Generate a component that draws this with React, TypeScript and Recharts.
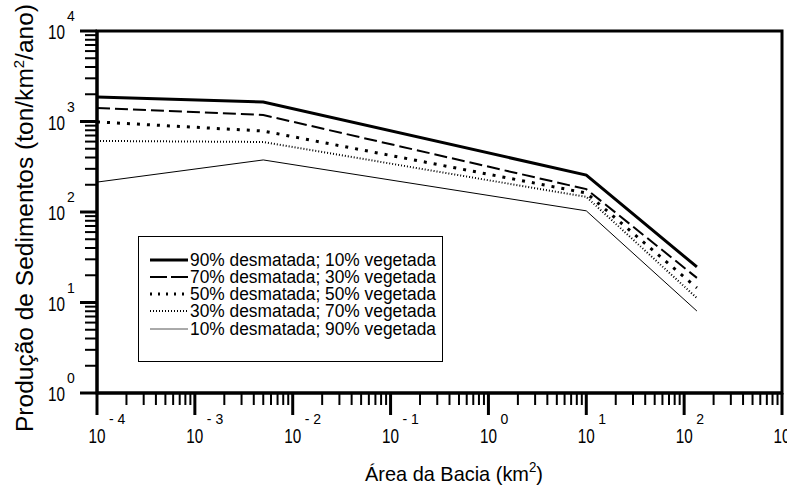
import React from "react";
import { LineChart, Line, XAxis, YAxis, ReferenceArea, Legend } from "recharts";

// valores (escala log-log)
const area = [1e-4, 5e-3, 10, 135];
const s90 = [1870, 1640, 256, 24.7];
const s70 = [1410, 1180, 179, 18.7];
const s50 = [990, 785, 162, 14.5];
const s30 = [610, 594, 147, 11.2];
const s10 = [214, 376, 103, 8.05];

const xDecades = [1e-4, 1e-3, 1e-2, 1e-1, 1, 10, 100, 1000];
const yDecades = [1, 10, 100, 1000, 10000];
const minorSteps = [2, 3, 4, 5, 6, 7, 8, 9];

const series = [
  { key: "s90", name: "90% desmatada; 10% vegetada", width: 3, dash: undefined, legendDash: undefined },
  { key: "s70", name: "70% desmatada; 30% vegetada", width: 2, dash: "13 5", legendDash: "17 4" },
  { key: "s50", name: "50% desmatada; 50% vegetada", width: 3, dash: "3 7", legendDash: "2 6" },
  { key: "s30", name: "30% desmatada; 70% vegetada", width: 2, dash: "1 2", legendDash: "1 2" },
  { key: "s10", name: "10% desmatada; 90% vegetada", width: 1, dash: undefined, legendDash: undefined },
];

const data = area.map((a, i) => ({
  area: a,
  s90: s90[i],
  s70: s70[i],
  s50: s50[i],
  s30: s30[i],
  s10: s10[i],
}));

const withMinor = (decades: number[]) => {
  const out: number[] = [];
  decades.forEach((d, i) => {
    out.push(d);
    if (i < decades.length - 1) minorSteps.forEach((m) => out.push(d * m));
  });
  return out;
};

const xTicks = withMinor(xDecades);
const yTicks = withMinor(yDecades);

const FONT = '"Liberation Sans", Arial, Helvetica, sans-serif';

const isDecade = (v: number) => Math.abs(Math.log10(v) - Math.round(Math.log10(v))) < 1e-9;
const expLabel = (v: number) => {
  const e = Math.round(Math.log10(v));
  return e < 0 ? `- ${-e}` : `${e}`;
};

const XTick = (props: any) => {
  const { x, y, payload } = props;
  const v = payload.value;
  const major = isDecade(v);
  return (
    <g>
      <line x1={x} x2={x} y1={y} y2={y + (major ? 22 : 12)} stroke="#000" strokeWidth={major ? 3 : 2} />
      {major && (
        <>
          <text x={x - 8.5} y={y + 50} textLength={17} lengthAdjust="spacingAndGlyphs" fontFamily={FONT} fontSize={20} fill="#000">10</text>
          <text x={x + 12} y={y + 31} fontFamily={FONT} fontSize={14} fill="#000">{expLabel(v)}</text>
        </>
      )}
    </g>
  );
};

const YTick = (props: any) => {
  const { x, y, payload } = props;
  const v = payload.value;
  const major = isDecade(v);
  return (
    <g>
      <line x1={x - (major ? 17 : 12)} x2={x} y1={y} y2={y} stroke="#000" strokeWidth={major ? 3 : 2} />
      {major && (
        <>
          <text x={x - 49} y={y + 8} textLength={17} lengthAdjust="spacingAndGlyphs" fontFamily={FONT} fontSize={20} fill="#000">10</text>
          <text x={x - 30} y={y - 10} fontFamily={FONT} fontSize={14} fill="#000">{expLabel(v)}</text>
        </>
      )}
    </g>
  );
};

const YTitle = () => (
  <text
    transform="translate(33, 218) rotate(-90)"
    textAnchor="middle"
    textLength={428}
    lengthAdjust="spacingAndGlyphs"
    fontFamily={FONT}
    fontSize={23}
    fill="#000"
  >
    Produção de Sedimentos (ton/km<tspan dy={-9} fontSize={14}>2</tspan>
    <tspan dy={9}>/ano)</tspan>
  </text>
);

const XTitle = () => (
  <text x={365} y={481} textLength={178} lengthAdjust="spacingAndGlyphs" fontFamily={FONT} fontSize={21} fill="#000">
    Área da Bacia (km<tspan dy={-9} fontSize={14}>2</tspan>
    <tspan dy={9}>)</tspan>
  </text>
);

const LegendBox = () => (
  <svg width={305} height={126} style={{ display: "block" }}>
    <rect x={0.5} y={0.5} width={304} height={125} fill="#fff" stroke="#000" strokeWidth={1} />
    {series.map((s, i) => {
      const cy = 24 + i * 17 + (i === 4 ? 1 : 0);
      return (
        <g key={s.key}>
          <line
            x1={12}
            x2={50}
            y1={cy}
            y2={cy}
            stroke={s.key === "s10" ? "#555" : "#000"}
            strokeWidth={s.width}
            strokeDasharray={s.legendDash}
          />
          <text x={52} y={cy + 6} textLength={246} lengthAdjust="spacingAndGlyphs" fontFamily={FONT} fontSize={18} fill="#000">
            {s.name}
          </text>
        </g>
      );
    })}
  </svg>
);

export default function App() {
  return (
    <div style={{ position: "absolute", left: 0, top: 0, width: 787, height: 487, overflow: "hidden", background: "#fff" }}>
      <LineChart width={800} height={487} data={data} margin={{ top: 31, right: 18, left: 0, bottom: 0 }}>
        <XAxis
          dataKey="area"
          type="number"
          scale="log"
          domain={[1e-4, 1e3]}
          allowDataOverflow
          ticks={xTicks}
          interval={0}
          tick={<XTick />}
          tickLine={false}
          tickSize={0}
          tickMargin={0}
          height={94}
          axisLine={{ stroke: "#000", strokeWidth: 3 }}
          label={<XTitle />}
        />
        <YAxis
          type="number"
          scale="log"
          domain={[1, 1e4]}
          allowDataOverflow
          ticks={yTicks}
          interval={0}
          tick={<YTick />}
          tickLine={false}
          tickSize={0}
          tickMargin={0}
          width={97}
          axisLine={{ stroke: "#000", strokeWidth: 3 }}
          label={<YTitle />}
        />
        <ReferenceArea
          x1={1e-4}
          x2={1e3}
          y1={1}
          y2={1e4}
          fill="none"
          stroke="#000"
          strokeWidth={3}
          ifOverflow="visible"
        />
        <Legend
          layout="horizontal"
          verticalAlign="middle"
          align="center"
          content={() => <LegendBox />}
          wrapperStyle={{ left: 138, top: 236, width: 305, height: 126 }}
        />
        {series.map((s) => (
          <Line
            key={s.key}
            dataKey={s.key}
            name={s.name}
            type="linear"
            stroke="#000"
            strokeWidth={s.width}
            strokeDasharray={s.dash}
            dot={false}
            isAnimationActive={false}
          />
        ))}
      </LineChart>
    </div>
  );
}
